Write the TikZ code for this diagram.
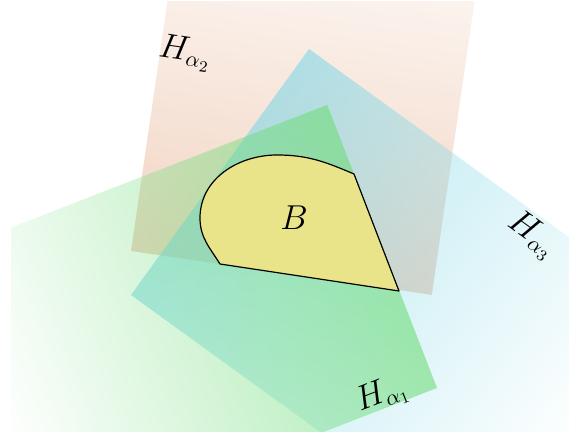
\documentclass[tikz,border=0pt]{standalone}
\usepackage{amsmath}
\usepackage{tikz}
\usetikzlibrary{fadings}
\definecolor{cOra} {RGB}{225,160,120}
\definecolor{cCya} {RGB}{128,215,231}
\definecolor{cGrn} {RGB}{110,220,120}
\definecolor{cBody}{RGB}{233,228,137}
\tikzfading[name=fadeOra, bottom color=transparent!55, top color=transparent!88]
\tikzfading[name=fadeCya, left color=transparent!40,  right color=transparent!100]
\tikzfading[name=fadeGrn, left color=transparent!100, right color=transparent!40]
\tikzset{
  lbl/.style ={font=\fontsize{16}{19}\selectfont,inner sep=1pt},
  body/.style={draw=black,fill=cBody,line width=0.6pt,line join=round},
}

\begin{document}
\begin{tikzpicture}[x=0.5pt, y=0.5pt]
\useasboundingbox (0,0) rectangle (569,439);

\begin{scope}
\clip (11,7) rectangle (569,437);
% each plane is drawn flat and turned with the canvas, so its fading
% runs along the plane and not along the page
\begin{scope}[transform canvas={shift={(131,188)}, rotate=-8.3}]
  \fill[cOra, path fading=fadeOra] (0,0) rectangle (304,300);
\end{scope}
\begin{scope}[transform canvas={shift={(131,144)}, rotate=-35.9}]
  \fill[cCya, path fading=fadeCya] (0,0) rectangle (450,303.6);
\end{scope}
\begin{scope}[transform canvas={shift={(437,51)}, rotate=21.2}]
  \fill[cGrn, path fading=fadeGrn] (-420,0) rectangle (0,303.6);
\end{scope}
\end{scope}

\draw[body] (220,175) -- (399,148) -- (354,265)
  to[out=157,in=0] (277,284) to[out=180,in=90] (200,221)
  to[out=-90,in=122] cycle;

\node[lbl] (b) at (294,221) {$B$};
\node[lbl,rotate=-8.3]  (h2) at (185,386) {$H_{\alpha_2}$};
\node[lbl,rotate=21.2]  (h1) at (382,44)  {$H_{\alpha_1}$};
\node[lbl,rotate=-35.9] (h3) at (532,204) {$H_{\alpha_3}$};
\end{tikzpicture}
\end{document}
